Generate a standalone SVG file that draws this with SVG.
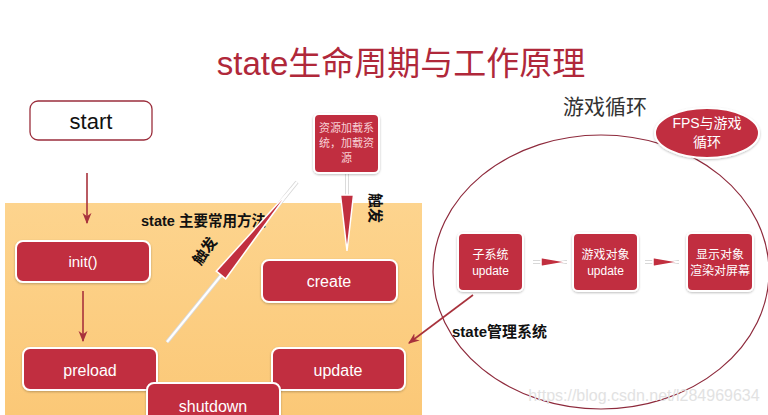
<svg xmlns="http://www.w3.org/2000/svg" width="768" height="415" viewBox="0 0 768 415">
<defs>
<linearGradient id="panel" x1="0" y1="0" x2="0" y2="1">
<stop offset="0" stop-color="#fdd48e"/>
<stop offset="1" stop-color="#fbc877"/>
</linearGradient>
<marker id="ah" viewBox="0 0 10 10" refX="9" refY="5" markerWidth="7" markerHeight="7" orient="auto-start-reverse">
<path d="M0,1 L10,5 L0,9 L3,5 Z" fill="#a8323c"/>
</marker>
<filter id="sh" x="-10%" y="-10%" width="120%" height="130%">
<feDropShadow dx="0" dy="1" stdDeviation="1" flood-color="#000" flood-opacity="0.25"/>
</filter>
</defs>
<style>
.box{fill:#c12f3f;stroke:#fff;stroke-width:2;filter:url(#sh)}
.wt{fill:#fff;font-family:"Liberation Sans","Noto Sans CJK SC",sans-serif;text-anchor:middle}
.bk{fill:#111;font-family:"Liberation Sans","Noto Sans CJK SC",sans-serif;font-weight:bold}
.link{stroke:#a8323c;stroke-width:1.6;fill:none}
.glow{stroke:#d8d8d8;stroke-width:4;fill:none}
.wl{stroke:#fff;stroke-width:2.2;fill:none}
.wedge{fill:#c12f3f;stroke:#fff;stroke-width:1.5}
</style>
<rect width="768" height="415" fill="#fff"/>
<rect x="5" y="203" width="417" height="212" fill="url(#panel)"/>

<text x="401" y="75" font-family="Liberation Sans,'Noto Sans CJK SC',sans-serif" font-size="33" fill="#b0283a" text-anchor="middle">state生命周期与工作原理</text>

<text x="141" y="226" class="bk" font-size="14.5">state 主要常用方法</text>
<text x="605" y="114" font-family="Liberation Sans,'Noto Sans CJK SC',sans-serif" font-size="21" fill="#333" text-anchor="middle">游戏循环</text>

<ellipse cx="601" cy="272" rx="168" ry="137" fill="none" stroke="#8e2a3c" stroke-width="1.2"/>

<g id="connectors">
<line x1="87" y1="173" x2="87" y2="223" class="link" marker-end="url(#ah)"/>
<line x1="83" y1="291" x2="83" y2="341" class="link" marker-end="url(#ah)"/>
<line x1="473" y1="295" x2="409" y2="343" class="link" marker-end="url(#ah)"/>
<line x1="347" y1="173" x2="347" y2="196" class="glow"/>
<line x1="347" y1="173" x2="347" y2="196" class="wl"/>
<polygon points="340.5,195 353.5,195 347,251" class="wedge"/>
<line x1="167" y1="342" x2="297" y2="182" class="glow"/>
<line x1="167" y1="342" x2="297" y2="182" class="wl"/>
<polygon points="216.3,271.2 225.7,278.8 291,189" class="wedge"/>
<line x1="533" y1="262" x2="567" y2="262" class="glow"/>
<line x1="533" y1="262" x2="567" y2="262" class="wl"/>
<polygon points="541,257.5 541,266.5 567,262" class="wedge" stroke-width="1"/>
<line x1="645" y1="262" x2="679" y2="262" class="glow"/>
<line x1="645" y1="262" x2="679" y2="262" class="wl"/>
<polygon points="653,257.5 653,266.5 679,262" class="wedge" stroke-width="1"/>
</g>

<text class="bk" font-size="15" text-anchor="middle" transform="translate(209,254) rotate(-55)">触发</text>
<text class="bk" font-size="15" text-anchor="middle" transform="translate(370,208) rotate(90)">触发</text>

<g id="start">
<rect x="30" y="101" width="122" height="39" rx="8" fill="#fff" stroke="#9b2e3c" stroke-width="1.3"/>
<text x="91" y="129" font-family="Liberation Sans,sans-serif" font-size="22" fill="#111" text-anchor="middle">start</text>
</g>
<g id="init">
<rect x="16" y="241" width="134" height="41" rx="7" class="box"/>
<text x="83" y="267" class="wt" font-size="15">init()</text>
</g>
<g id="preload">
<rect x="23" y="348" width="134" height="42" rx="7" class="box"/>
<text x="90" y="376" class="wt" font-size="16">preload</text>
</g>
<g id="update">
<rect x="272" y="348" width="133" height="42" rx="7" class="box"/>
<text x="338" y="376" class="wt" font-size="16">update</text>
</g>
<g id="shutdown">
<rect x="147" y="383" width="133" height="40" rx="7" class="box"/>
<text x="213" y="412" class="wt" font-size="16">shutdown</text>
</g>
<g id="create">
<rect x="262" y="260" width="135" height="42" rx="7" class="box"/>
<text x="329" y="287" class="wt" font-size="16">create</text>
</g>
<g id="loader">
<rect x="314" y="114" width="65" height="59" rx="5" class="box"/>
<text class="wt" font-size="11" style="fill:#f7d0d5"><tspan x="346.5" y="132">资源加载系</tspan><tspan x="346.5" y="147">统，加载资</tspan><tspan x="346.5" y="162">源</tspan></text>
</g>
<g id="fps">
<ellipse cx="707" cy="133" rx="52" ry="25" class="box"/>
<text class="wt" font-size="14"><tspan x="707" y="128">FPS与游戏</tspan><tspan x="707" y="147">循环</tspan></text>
</g>
<g id="subsys">
<rect x="458" y="233" width="65" height="58" rx="5" class="box"/>
<text class="wt" font-size="12"><tspan x="490.5" y="259">子系统</tspan><tspan x="490.5" y="275">update</tspan></text>
</g>
<g id="gameobj">
<rect x="573" y="233" width="65" height="58" rx="5" class="box"/>
<text class="wt" font-size="12"><tspan x="605.5" y="259">游戏对象</tspan><tspan x="605.5" y="275">update</tspan></text>
</g>
<g id="render">
<rect x="687" y="233" width="66" height="58" rx="5" class="box"/>
<text class="wt" font-size="12"><tspan x="720" y="259">显示对象</tspan><tspan x="720" y="275">渲染对屏幕</tspan></text>
</g>

<text x="452" y="337" class="bk" font-size="15">state管理系统</text>
<text x="644" y="401" font-family="Liberation Sans,sans-serif" font-size="16" fill="#e2e2e2" text-anchor="middle">https://blog.csdn.net/l284969634</text>
</svg>
